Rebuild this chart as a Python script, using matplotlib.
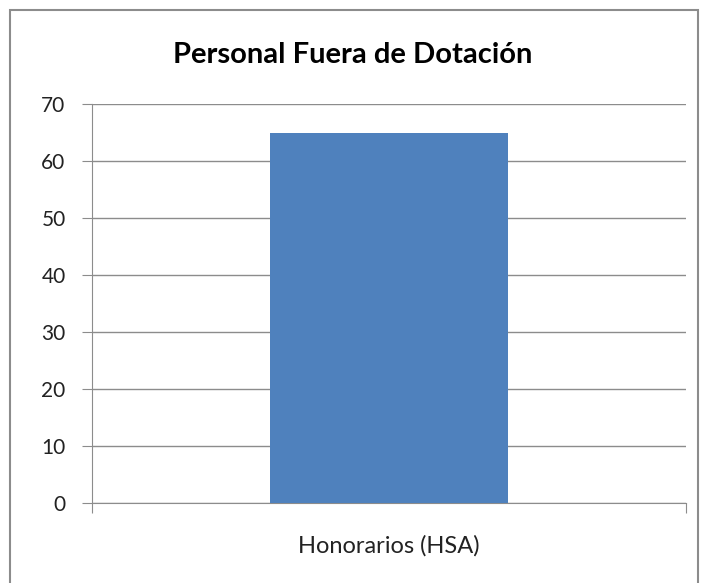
import matplotlib
matplotlib.use("Agg")
import matplotlib.pyplot as plt
from matplotlib.patches import Rectangle

categories = ["Honorarios (HSA)"]
values = [65]
y_ticks = [0, 10, 20, 30, 40, 50, 60, 70]

plt.rcParams['font.family'] = ['Lato', 'DejaVu Sans']

fig = plt.figure(figsize=(7.06, 5.83), dpi=100)
# outer chart border, open at the bottom like the screenshot
fig.patches.append(Rectangle((10 / 706, -0.05), 688 / 706, 1.05 - 10 / 583,
                             transform=fig.transFigure, fill=False,
                             edgecolor="#8c8c8c", linewidth=1.5))

ax = fig.add_axes([92 / 706, 80 / 583, 594 / 706, 399 / 583])
x = range(len(categories))
ax.bar(x, values, width=0.4, color="#4F81BD", zorder=3)

ax.set_xlim(-0.5, 0.5)
ax.set_ylim(0, 70)
ax.set_yticks(y_ticks)
ax.set_yticklabels([str(v) for v in y_ticks], fontsize=15, color="#222222")
ax.yaxis.grid(True, color="#8c8c8c", linewidth=1, zorder=0)

# category label sits in the middle, tick marks at the category edges
ax.set_xticks([-0.5, 0.5])
ax.set_xticklabels(["", ""])
ax.tick_params(axis="x", length=7, color="#8c8c8c")
ax.tick_params(axis="y", length=7, color="#8c8c8c", pad=12)
for i, c in enumerate(categories):
    ax.text(i, -0.08, c, transform=ax.get_xaxis_transform(),
            ha="center", va="top", fontsize=17, color="#222222")

for side in ["top", "right"]:
    ax.spines[side].set_visible(False)
ax.spines["left"].set_color("#8c8c8c")
ax.spines["bottom"].set_color("#8c8c8c")

fig.text(0.5, 1 - 55 / 583, "Personal Fuera de Dotación", ha="center", va="center",
         fontsize=21, fontweight="bold")

fig.savefig("out.png", dpi=100)
